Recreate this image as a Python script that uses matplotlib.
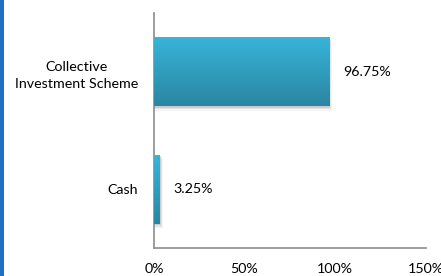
import numpy as np
import matplotlib
matplotlib.use("Agg")
import matplotlib.pyplot as plt
from matplotlib.colors import LinearSegmentedColormap
from matplotlib.patches import Rectangle

categories = ["Cash", "Collective\nInvestment Scheme"]
values = [3.25, 96.75]
value_labels = ["3.25%", "96.75%"]
xticks = [0, 50, 100, 150]
xtick_labels = ["0%", "50%", "100%", "150%"]

plt.rcParams["font.family"] = ["Lato", "DejaVu Sans"]

fig = plt.figure(figsize=(4.41, 2.76), dpi=100)
ax = fig.add_axes([154 / 441, 28 / 276, 271.5 / 441, 235 / 276])

bar_h = 0.59
fs = 10.3
grad = LinearSegmentedColormap.from_list("bar", ["#2a86a2", "#38b5da"])
ypos = np.arange(len(categories))

# soft shadow under each bar
for y, v in zip(ypos, values):
    for k, a in enumerate([0.10, 0.07, 0.04]):
        off = 0.6 + k * 0.6
        ax.add_patch(Rectangle((0, y - bar_h / 2 - 0.012 * (k + 1)), v + off, bar_h,
                               facecolor="#000000", alpha=a, edgecolor="none", zorder=1))

bars = ax.barh(ypos, values, height=bar_h, color="#31a3c6", zorder=2)

# vertical gradient fill clipped to each bar
g = np.linspace(0, 1, 100).reshape(-1, 1)
for b in bars:
    x0, y0 = b.get_x(), b.get_y()
    im = ax.imshow(g, cmap=grad, aspect="auto", origin="lower",
                   extent=[x0, x0 + b.get_width(), y0, y0 + b.get_height()], zorder=3)
    im.set_clip_path(b)

for y, v, lab in zip(ypos, values, value_labels):
    ax.annotate(lab, (v, y), xytext=(10, 0), textcoords="offset points",
                va="center", ha="left", fontsize=fs, color="#000000")

ax.set_xlim(0, 150)
ax.set_ylim(-0.5, 1.5)
ax.set_xticks(xticks)
ax.set_xticklabels(xtick_labels, fontsize=fs)
ax.set_yticks(ypos)
ax.set_yticklabels(categories, fontsize=fs, multialignment="center", linespacing=1.55)
ax.tick_params(axis="both", length=0)
ax.tick_params(axis="x", pad=11)
ax.tick_params(axis="y", pad=11.5)

for s in ("top", "right"):
    ax.spines[s].set_visible(False)
for s in ("left", "bottom"):
    ax.spines[s].set_color("#8c8c8c")
    ax.spines[s].set_linewidth(1.2)

# blue frame edge on the left
fig.add_artist(Rectangle((0, 0), 4 / 441, 1, transform=fig.transFigure,
                         facecolor="#1f6fc5", edgecolor="none"))

fig.savefig("out.png", dpi=100)
